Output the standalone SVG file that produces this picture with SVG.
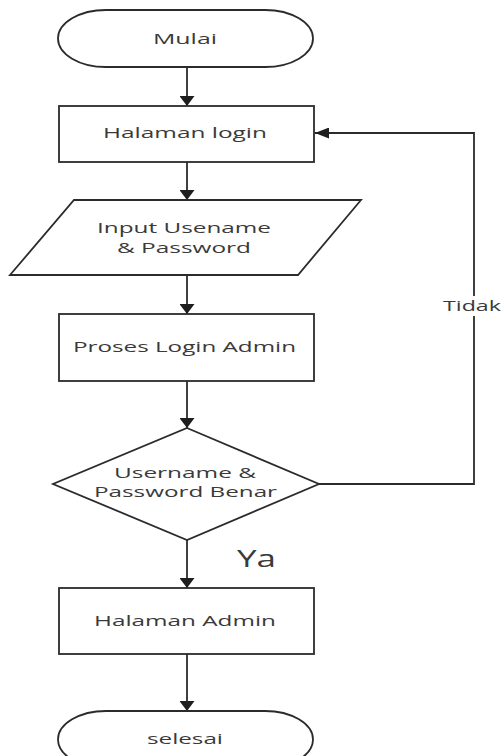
<svg xmlns="http://www.w3.org/2000/svg" width="504" height="756" viewBox="0 0 504 756">
<style>
.s{fill:#fff;stroke:#2b2b2b;stroke-width:1.8}
.c{fill:none;stroke:#2b2b2b;stroke-width:1.8}
.t{font-family:"Open Sans","DejaVu Sans",sans-serif;font-size:14px;fill:#3a3a3a;text-anchor:middle}
</style>
<defs>
<marker id="av" markerUnits="userSpaceOnUse" markerWidth="11" markerHeight="15" refX="10" refY="7.5" orient="auto">
<path d="M0,0 L10,7.5 L0,15 Z" fill="#1e1e1e"/>
</marker>
<marker id="ah" markerUnits="userSpaceOnUse" markerWidth="15" markerHeight="11" refX="14" refY="5.5" orient="auto">
<path d="M0,0 L14,5.5 L0,11 Z" fill="#1e1e1e"/>
</marker>
</defs>
<rect width="504" height="756" fill="#fff"/>
<g id="connectors">
<line class="c" x1="187" y1="67" x2="187" y2="106" marker-end="url(#av)"/>
<line class="c" x1="187" y1="162" x2="187" y2="200" marker-end="url(#av)"/>
<line class="c" x1="187" y1="275" x2="187" y2="314" marker-end="url(#av)"/>
<line class="c" x1="187" y1="381" x2="187" y2="428" marker-end="url(#av)"/>
<line class="c" x1="187" y1="540" x2="187" y2="588" marker-end="url(#av)"/>
<line class="c" x1="187" y1="654" x2="187" y2="711" marker-end="url(#av)"/>
<polyline class="c" points="319,484 474,484 474,133 315,133" marker-end="url(#ah)"/>
<rect x="440" y="296" width="64" height="20" fill="#fff"/>
<text class="t" x="472" y="311" font-size="15" textLength="58" lengthAdjust="spacingAndGlyphs">Tidak</text>
<text class="t" x="256.5" y="567" style="font-size:23px" textLength="39" lengthAdjust="spacingAndGlyphs">Ya</text>
</g>
<g id="mulai">
<path class="s" d="M106,10 H265 A48,28.5 0 0 1 265,67 H106 A48,28.5 0 0 1 106,10 Z"/>
<text class="t" x="185" y="44" textLength="64" lengthAdjust="spacingAndGlyphs">Mulai</text>
</g>
<g id="halaman-login">
<rect class="s" x="59" y="106" width="255" height="56"/>
<text class="t" x="185" y="138" textLength="164" lengthAdjust="spacingAndGlyphs">Halaman login</text>
</g>
<g id="input">
<polygon class="s" points="74,200 361,200 298,275 10,275"/>
<text class="t" x="184" y="233" textLength="174" lengthAdjust="spacingAndGlyphs">Input Usename</text>
<text class="t" x="184" y="253" textLength="134" lengthAdjust="spacingAndGlyphs">&amp; Password</text>
</g>
<g id="proses">
<rect class="s" x="59" y="314" width="255" height="67"/>
<text class="t" x="184.5" y="352" textLength="223" lengthAdjust="spacingAndGlyphs">Proses Login Admin</text>
</g>
<g id="decision">
<polygon class="s" points="187,428 319,484 187,540 53,484"/>
<text class="t" x="185" y="478" textLength="142" lengthAdjust="spacingAndGlyphs">Username &amp;</text>
<text class="t" x="185.5" y="497" textLength="183" lengthAdjust="spacingAndGlyphs">Password Benar</text>
</g>
<g id="halaman-admin">
<rect class="s" x="59" y="588" width="255" height="66"/>
<text class="t" x="185" y="626" textLength="182" lengthAdjust="spacingAndGlyphs">Halaman Admin</text>
</g>
<g id="selesai">
<path class="s" d="M106,711 H265 A48,28.5 0 0 1 265,768 H106 A48,28.5 0 0 1 106,711 Z"/>
<text class="t" x="185" y="744" textLength="76" lengthAdjust="spacingAndGlyphs">selesai</text>
</g>
</svg>
